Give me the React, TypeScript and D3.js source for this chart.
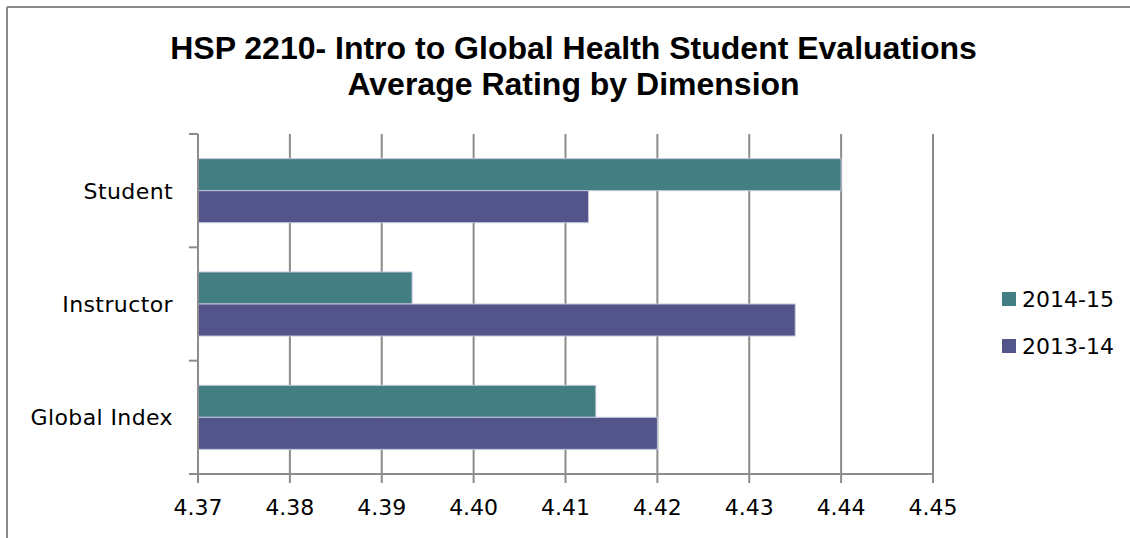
import React from "react";
import * as d3 from "d3";

const categories = ["Student", "Instructor", "Global Index"];
const seriesNames = ["2014-15", "2013-14"];
const values2014_15 = [4.44, 4.3933, 4.4133];
const values2013_14 = [4.4125, 4.435, 4.42];
const xTicks = [4.37, 4.38, 4.39, 4.4, 4.41, 4.42, 4.43, 4.44, 4.45];
const titleLines = [
  "HSP 2210- Intro to Global Health Student Evaluations",
  "Average Rating by Dimension",
];
const colors = ["#437E83", "#535489"];

export default function App() {
  const W = 1130;
  const H = 538;
  const left = 198;
  const right = 933;
  const top = 134;
  const bottom = 474;

  const x = d3.scaleLinear().domain([4.37, 4.45]).range([left, right]);
  const y = d3.scaleBand().domain(categories).range([top, bottom]).padding(0);
  const ys = d3
    .scaleBand()
    .domain(seriesNames)
    .range([0, y.bandwidth()])
    .paddingInner(0)
    .paddingOuter(0.77);

  const series = [values2014_15, values2013_14];
  const grid = "#8C8C8C";
  const font = "'DejaVu Sans', sans-serif";
  const boundaries = [...categories.map((c) => y(c) as number), bottom];

  return (
    <svg
      width={W}
      height={H}
      style={{ position: "absolute", left: 0, top: 0, background: "#fff" }}
    >
      <rect x={0} y={0} width={W} height={H} fill="#fff" />
      {/* outer border */}
      <line x1={7} y1={7} x2={W} y2={7} stroke="#8a8a8a" strokeWidth={2} />
      <line x1={7} y1={7} x2={7} y2={H} stroke="#8a8a8a" strokeWidth={2} />

      {/* title */}
      {titleLines.map((t, i) => (
        <text
          key={i}
          x={573.5}
          y={59 + i * 36}
          textAnchor="middle"
          fontFamily="'Liberation Sans', Arial, sans-serif"
          fontWeight="bold"
          fontSize={32}
          fill="#000"
        >
          {t}
        </text>
      ))}

      {/* gridlines */}
      {xTicks.slice(1).map((t) => (
        <line
          key={t}
          x1={x(t)}
          x2={x(t)}
          y1={top}
          y2={bottom}
          stroke={grid}
          strokeWidth={2}
        />
      ))}

      {/* bars */}
      {categories.map((c, ci) =>
        seriesNames.map((s, si) => {
          const yy = (y(c) as number) + (ys(s) as number);
          return (
            <rect
              key={c + s}
              x={x(4.37)}
              y={yy}
              width={x(series[si][ci]) - x(4.37)}
              height={ys.bandwidth()}
              fill={colors[si]}
              stroke="#C4C6DE"
              strokeWidth={1}
            />
          );
        })
      )}

      {/* y axis */}
      <line x1={left} x2={left} y1={top} y2={bottom} stroke={grid} strokeWidth={2} />
      {boundaries.map((b, i) => (
        <line key={i} x1={189} x2={left} y1={b} y2={b} stroke={grid} strokeWidth={2} />
      ))}
      {categories.map((c) => (
        <text
          key={c}
          x={173}
          y={(y(c) as number) + y.bandwidth() / 2 + 8}
          textAnchor="end"
          fontFamily={font}
          fontSize={22}
          letterSpacing={0.4}
          fill="#000"
        >
          {c}
        </text>
      ))}

      {/* x axis */}
      <line x1={189} x2={right} y1={bottom} y2={bottom} stroke={grid} strokeWidth={2} />
      {xTicks.map((t) => (
        <g key={t}>
          <line x1={x(t)} x2={x(t)} y1={bottom} y2={bottom + 9} stroke={grid} strokeWidth={2} />
          <text
            x={x(t)}
            y={515}
            textAnchor="middle"
            fontFamily={font}
            fontSize={22}
            fill="#000"
          >
            {d3.format(".2f")(t)}
          </text>
        </g>
      ))}

      {/* legend */}
      {seriesNames.map((s, i) => (
        <g key={s} transform={`translate(1002, ${292 + i * 47})`}>
          <rect x={0} y={0} width={14} height={14} fill={colors[i]} />
          <text x={20} y={15} fontFamily={font} fontSize={22} fill="#000">
            {s}
          </text>
        </g>
      ))}
    </svg>
  );
}
